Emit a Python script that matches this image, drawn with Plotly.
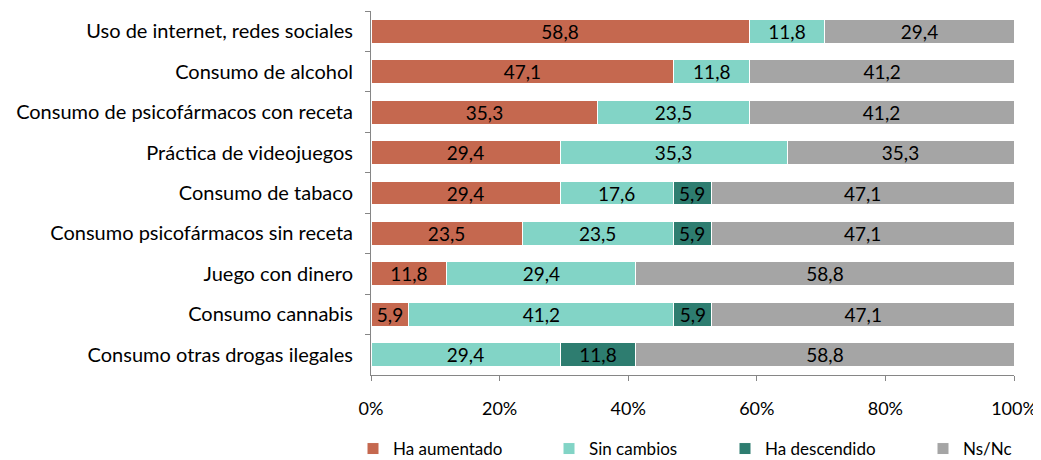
import plotly.graph_objects as go

categories = [
    "Uso de internet, redes sociales",
    "Consumo de alcohol",
    "Consumo de psicofármacos con receta",
    "Práctica de videojuegos",
    "Consumo de tabaco",
    "Consumo psicofármacos sin receta",
    "Juego con dinero",
    "Consumo cannabis",
    "Consumo otras drogas ilegales",
]
ha_aumentado = [58.8, 47.1, 35.3, 29.4, 29.4, 23.5, 11.8, 5.9, None]
sin_cambios = [11.8, 11.8, 23.5, 35.3, 17.6, 23.5, 29.4, 41.2, 29.4]
ha_descendido = [None, None, None, None, 5.9, 5.9, None, 5.9, 11.8]
ns_nc = [29.4, 41.2, 41.2, 35.3, 47.1, 47.1, 58.8, 47.1, 58.8]
x_ticks = [0, 20, 40, 60, 80, 100]
x_tick_labels = ["0%", "20%", "40%", "60%", "80%", "100%"]

series = [
    ("Ha aumentado", ha_aumentado, "#C5684F"),
    ("Sin cambios", sin_cambios, "#82D4C6"),
    ("Ha descendido", ha_descendido, "#2E7D70"),
    ("Ns/Nc", ns_nc, "#A5A5A5"),
]
legend_ids = ["legend", "legend2", "legend3", "legend4"]
legend_square_left = [372, 568, 744, 942]  # screen px of legend squares

FONT = "Lato"
W, H = 1033, 452  # page body margin of 8px
fig = go.Figure()
for (name, vals, color), lid in zip(series, legend_ids):
    fig.add_trace(go.Bar(
        y=categories, x=vals, name=name, orientation="h", legend=lid,
        marker=dict(color=color, line=dict(color="#FFFFFF", width=1)),
        texttemplate="%{x:.1f}", textposition="inside", insidetextanchor="middle",
        constraintext="none",
        textfont=dict(family=FONT, size=19, color="#000000"),
        hoverinfo="skip",
    ))

legend_layout = {}
for lid, sq in zip(legend_ids, legend_square_left):
    legend_layout[lid] = dict(
        orientation="h", xref="container", yref="container",
        x=(sq - 27) / W, xanchor="left", y=(H - 441) / H, yanchor="middle",
        font=dict(family=FONT, size=17, color="#000000"),
        bgcolor="rgba(0,0,0,0)", itemclick=False, itemdoubleclick=False,
    )

fig.update_layout(
    barmode="stack",
    bargap=0.41,
    separators=",.",
    width=W, height=H,
    margin=dict(l=363, r=27, t=3, b=85, autoexpand=False),
    plot_bgcolor="#FFFFFF", paper_bgcolor="#FFFFFF",
    font=dict(family=FONT, size=17, color="#000000"),
    showlegend=True,
    xaxis=dict(range=[0, 100], tickvals=x_ticks, ticktext=x_tick_labels,
               showgrid=False, zeroline=False, showline=True, automargin=False,
               linecolor="#868686", linewidth=1, ticks="outside",
               ticklen=5, tickcolor="#868686", ticklabelstandoff=12,
               tickfont=dict(family=FONT, size=18, color="#000000")),
    yaxis=dict(autorange="reversed", categoryorder="array", categoryarray=categories,
               showgrid=False, zeroline=False, showline=True, automargin=False,
               linecolor="#868686", linewidth=1, ticks="outside",
               tickson="boundaries", ticklen=5, tickcolor="#868686",
               ticklabelstandoff=13,
               tickfont=dict(family=FONT, size=20, color="#000000")),
    **legend_layout,
)

fig.write_html("out.html")
